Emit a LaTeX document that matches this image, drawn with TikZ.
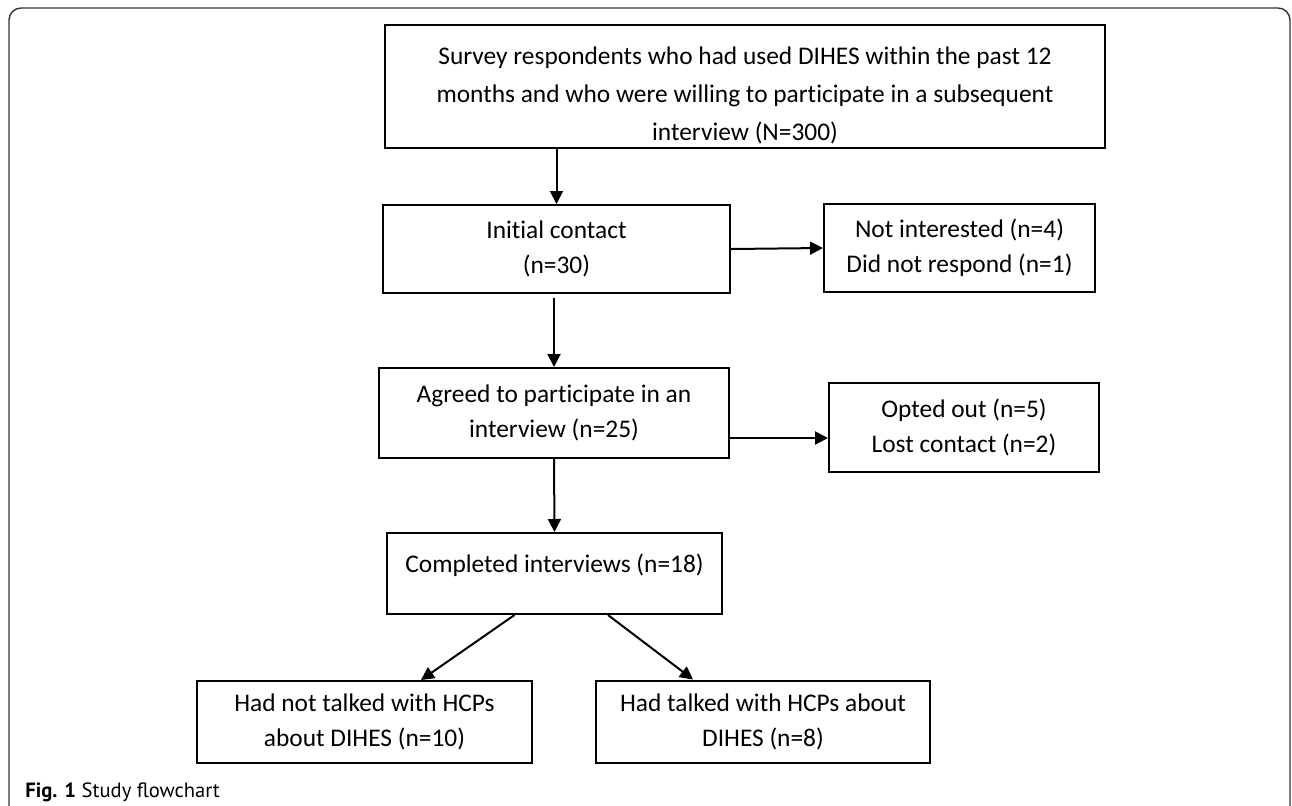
\documentclass[tikz,border=0pt]{standalone}
\usepackage{fontspec}
\setmainfont{Carlito}[Ligatures=NoCommon]
\newfontfamily\capfont{PT Sans}
\usetikzlibrary{arrows.meta,calc}

\tikzset{
  box/.style={draw, line width=1pt, align=center, inner sep=0pt},
  arr/.style={-{Triangle[length=6.5pt,width=6.5pt]}, line width=1pt}
}

\begin{document}
\begin{tikzpicture}[x=0.5pt,y=-0.5pt,font=\fontsize{12.7}{17.5}\selectfont]
\useasboundingbox (0,0) rectangle (1292,805);
% outer frame
\draw[line width=0.7pt, rounded corners=6pt, black!80] (9,820) -- (9,8) -- (1290,8) -- (1290,820);

\node[box, minimum width=360pt, minimum height=61.5pt] (survey) at (745,86.5) {};
\node[align=center, inner sep=0pt, font=\fontsize{12.7}{19}\selectfont] (surveytext) at (745,95) {Survey respondents who had used DIHES within the past 12\\ months and who were willing to participate in a subsequent\\ interview (N=300)};
\node[box, minimum width=173.5pt, minimum height=44pt] (init) at (556.5,249) {Initial contact\\ (n=30)};
\node[box, minimum width=135.5pt, minimum height=44pt] (notint) at (959.5,248) {Not interested (n=4)\\ Did not respond (n=1)};
\node[box, minimum width=175pt, minimum height=45pt] (agreed) at (554,413) {Agreed to participate in an\\ interview (n=25)};
\node[box, minimum width=135pt, minimum height=44.5pt] (opted) at (964,427.5) {Opted out (n=5)\\ Lost contact (n=2)};
\node[box, minimum width=167.5pt, minimum height=40.5pt, text depth=10pt] (done) at (554.5,573.5) {Completed interviews (n=18)};
\node[box, minimum width=167.5pt, minimum height=41pt] (nottalk) at (364.5,722) {Had not talked with HCPs\\ about DIHES (n=10)};
\node[box, minimum width=167pt, minimum height=41pt] (talk) at (763,721.5) {Had talked with HCPs about\\ DIHES (n=8)};
\node[anchor=base west, inner sep=0pt, font=\capfont\fontsize{10.3}{12}\selectfont] (cap) at (25,797) {\textbf{Fig. 1} Study flowchart};

% arrows
\draw[arr] (survey.south -| init.north) -- (init.north);
\draw[arr] (init.east) -- (notint.west);
\draw[arr, shorten <=2pt] (init.south -| agreed.north) -- (agreed.north);
\draw[arr] ($(agreed.south east)+(0,-21)$) coordinate (a) -- (a -| opted.west);
\draw[arr] (agreed.south) -- (done.north);
\draw[arr] ($(done.south)+(-40,0)$) -- ($(nottalk.north)+(56.5,0)$);
\draw[arr] ($(done.south)+(53.5,0)$) -- ($(talk.north)+(-70,0)$);
\end{tikzpicture}
\end{document}
